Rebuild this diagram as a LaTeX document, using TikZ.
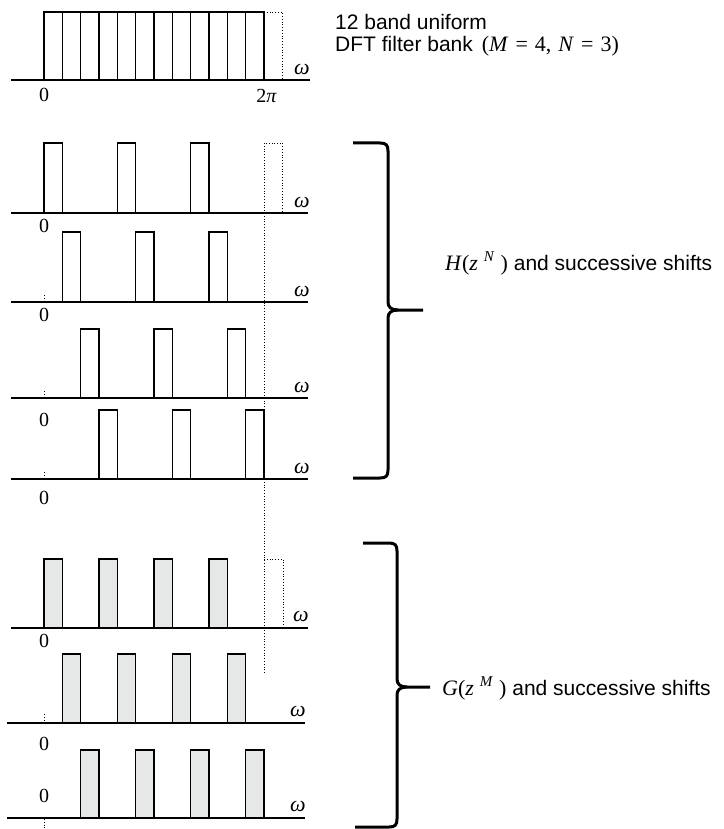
\documentclass[tikz,border=0pt]{standalone}
\usepackage{fontspec}
\setmainfont{Liberation Sans}
\newfontfamily\tms{Liberation Serif}
\definecolor{bandgray}{RGB}{230,232,232}
\begin{document}
\begin{tikzpicture}[x=1pt,y=-1pt,
  axisline/.style={line width=1.8pt},
  band/.style={draw=black, line width=1.1pt},
  gband/.style={draw=black, fill=bandgray, line width=1.1pt},
  dots/.style={dotted, line width=0.8pt},
  bracepath/.style={line width=3pt},
  lab/.style={font=\fontsize{21}{24}\selectfont, inner sep=0pt},
  zero/.style={font=\tms\fontsize{20}{22}\selectfont, inner sep=0pt, anchor=base},
  om/.style={font=\tms\itshape\fontsize{22}{22}\selectfont, inner sep=0pt, anchor=base}
]
\useasboundingbox (0,0) rectangle (723,829);
\def\bw{18.3333}

% ---------- top panel ----------
\foreach \k in {0,...,11}
  \draw[band] ({44+\k*\bw},80) rectangle ({44+(\k+1)*\bw},12);
\draw[dots] (264,12) -- (282.3,12) -- (282.3,80);
\draw[axisline] (11,80) -- (310,80);
\node[om] (w0) at (302,75) {ω};
\node[zero] (z0) at (44,102) {0};
\node[zero] (tp) at (266.5,103) {2\textit{π}};
\node[lab, anchor=base west] (t1) at (335,30) {12 band uniform};
\node[lab, anchor=base west] (t2) at (335,52) {DFT filter bank\hspace{9pt}{\tms\fontsize{22}{24}\selectfont(\textit{M}\hspace{7pt}=\hspace{7pt}4,\hspace{7pt}\textit{N}\hspace{7pt}=\hspace{7pt}3)}};

% ---------- H panels ----------
\foreach \i/\ay/\ty in {0/213/143, 1/302/232, 2/398/329, 3/479/410} {
  \foreach \j in {0,1,2}
    \draw[band] ({44+(\i+4*\j)*\bw},\ay) rectangle ({44+(\i+4*\j+1)*\bw},\ty);
  \draw[axisline] (11,\ay) -- (308,\ay);
  \node[om] at (302,\ay-6) {ω};
}
\draw[dots] (264,673) -- (264,143) -- (282.3,143) -- (282.3,213);
\draw[dots] (44,295) -- (44,302);
\draw[dots] (44,391) -- (44,398);
\draw[dots] (44,472) -- (44,479);
\node[zero] (zh0) at (44,232) {0};
\node[zero] (zh1) at (44,321) {0};
\node[zero] (zh2) at (44,426) {0};
\node[zero] (zh3) at (44,504) {0};

% ---------- G panels ----------
\foreach \i/\ay/\ty/\xa/\xb in {0/628/559/11/308, 1/723/654/7/305, 2/818/750/7/305} {
  \foreach \j in {0,1,2,3}
    \draw[gband] ({44+(\i+3*\j)*\bw},\ay) rectangle ({44+(\i+3*\j+1)*\bw},\ty);
  \draw[axisline] (\xa,\ay) -- (\xb,\ay);
  \node[om] at (\xb-7,\ay-7) {ω};
}
\draw[dots] (264,559) -- (283,559) -- (283,628);
\draw[dots] (44,714) -- (44,723);
\draw[dots] (44,819) -- (44,829);
\node[zero] (zg0) at (44,647) {0};
\node[zero] (zg1) at (44,750) {0};
\node[zero] (zg2) at (44,802) {0};

% ---------- braces ----------
\draw[bracepath] (353,143) -- (380,143) .. controls (386,143) and (388,145) .. (388,151)
  -- (388,302) .. controls (388,307) and (391,310) .. (398,310) -- (423,310);
\draw[bracepath] (398,310) .. controls (391,310) and (388,313) .. (388,318)
  -- (388,470) .. controls (388,476) and (386,478) .. (380,478) -- (353,478);
\draw[bracepath] (363,543) -- (389,543) .. controls (395,543) and (397,545) .. (397,551)
  -- (397,679) .. controls (397,684) and (400,687) .. (407,687) -- (430,687);
\draw[bracepath] (407,687) .. controls (400,687) and (397,690) .. (397,695)
  -- (397,819) .. controls (397,825) and (395,827) .. (389,827) -- (355,827);

\node[lab, anchor=base west] (hl) at (445,270) {{\tms\fontsize{22}{24}\selectfont\textit{H}(\textit{z}\hspace{6pt}\raisebox{9pt}{\fontsize{15}{15}\selectfont\textit{N}}\hspace{6pt})} and successive shifts};
\node[lab, anchor=base west] (gl) at (442,695) {{\tms\fontsize{22}{24}\selectfont\textit{G}(\textit{z}\hspace{6pt}\raisebox{9pt}{\fontsize{15}{15}\selectfont\textit{M}}\hspace{6pt})} and successive shifts};
\end{tikzpicture}
\end{document}
